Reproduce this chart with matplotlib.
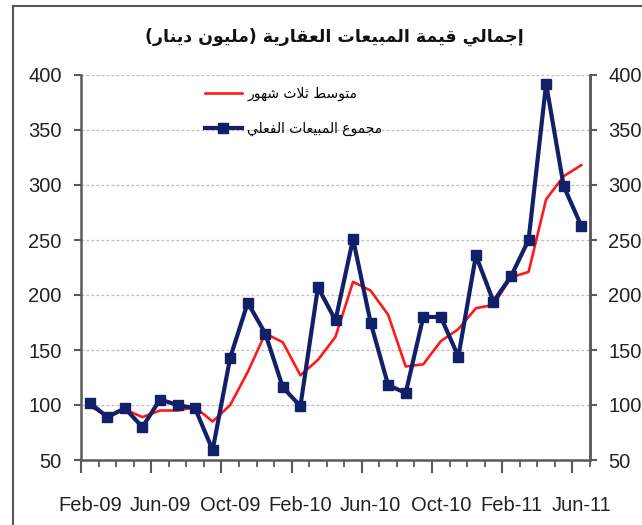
import matplotlib
matplotlib.use("Agg")
import matplotlib.pyplot as plt
from matplotlib.lines import Line2D
import numpy as np

# ---------------- data ----------------
months = ["Feb-09", "Mar-09", "Apr-09", "May-09", "Jun-09", "Jul-09", "Aug-09", "Sep-09",
          "Oct-09", "Nov-09", "Dec-09", "Jan-10", "Feb-10", "Mar-10", "Apr-10", "May-10",
          "Jun-10", "Jul-10", "Aug-10", "Sep-10", "Oct-10", "Nov-10", "Dec-10", "Jan-11",
          "Feb-11", "Mar-11", "Apr-11", "May-11", "Jun-11"]
actual_sales = [102, 89, 97, 80, 105, 100, 97, 59, 143, 193, 165, 116, 99, 207, 177, 251,
                175, 118, 111, 180, 180, 144, 236, 194, 217, 250, 392, 299, 263]
three_month_avg = [99, 90, 96, 89, 95, 95, 98, 85, 100, 130, 165, 157, 127, 141, 162, 212,
                   204, 182, 135, 137, 158, 169, 188, 191, 216, 221, 287, 308, 318]
label_every = 4
yticks = [50, 100, 150, 200, 250, 300, 350, 400]

title_text = "إجمالي قيمة المبيعات العقارية (مليون دينار)"
legend_avg = "متوسط ثلاث شهور"
legend_actual = "مجموع المبيعات الفعلي"

# ------------- minimal Arabic shaping (matplotlib has no complex text layout) -------------
FORMS = {  # iso, fin, ini, med
    'ا': ('\uFE8D', '\uFE8E', None, None),
    'إ': ('\uFE87', '\uFE88', None, None),
    'ب': ('\uFE8F', '\uFE90', '\uFE91', '\uFE92'),
    'ة': ('\uFE93', '\uFE94', None, None),
    'ت': ('\uFE95', '\uFE96', '\uFE97', '\uFE98'),
    'ث': ('\uFE99', '\uFE9A', '\uFE9B', '\uFE9C'),
    'ج': ('\uFE9D', '\uFE9E', '\uFE9F', '\uFEA0'),
    'د': ('\uFEA9', '\uFEAA', None, None),
    'ر': ('\uFEAD', '\uFEAE', None, None),
    'س': ('\uFEB1', '\uFEB2', '\uFEB3', '\uFEB4'),
    'ش': ('\uFEB5', '\uFEB6', '\uFEB7', '\uFEB8'),
    'ط': ('\uFEC1', '\uFEC2', '\uFEC3', '\uFEC4'),
    'ع': ('\uFEC9', '\uFECA', '\uFECB', '\uFECC'),
    'ف': ('\uFED1', '\uFED2', '\uFED3', '\uFED4'),
    'ق': ('\uFED5', '\uFED6', '\uFED7', '\uFED8'),
    'ل': ('\uFEDD', '\uFEDE', '\uFEDF', '\uFEE0'),
    'م': ('\uFEE1', '\uFEE2', '\uFEE3', '\uFEE4'),
    'ن': ('\uFEE5', '\uFEE6', '\uFEE7', '\uFEE8'),
    'ه': ('\uFEE9', '\uFEEA', '\uFEEB', '\uFEEC'),
    'و': ('\uFEED', '\uFEEE', None, None),
    'ي': ('\uFEF1', '\uFEF2', '\uFEF3', '\uFEF4'),
}


def _dual(c):
    return c in FORMS and FORMS[c][2] is not None


def shape_ar(s):
    out = []
    n = len(s)
    i = 0
    while i < n:
        c = s[i]
        if c not in FORMS:
            out.append(c)
            i += 1
            continue
        prev = s[i - 1] if i > 0 else None
        nxt = s[i + 1] if i + 1 < n else None
        jp = prev is not None and _dual(prev)
        if c == 'ل' and nxt in ('ا', 'إ'):
            out.append('\uFEFC' if jp else '\uFEFB')
            i += 2
            continue
        jn = _dual(c) and nxt is not None and nxt in FORMS
        iso, fin, ini, med = FORMS[c]
        if jp and jn:
            out.append(med)
        elif jp:
            out.append(fin)
        elif jn:
            out.append(ini)
        else:
            out.append(iso)
        i += 1
    vis = ''.join(reversed(out))
    return vis.translate(str.maketrans({'(': ')', ')': '('}))


# ---------------- figure ----------------
plt.rcParams['font.family'] = ['Liberation Sans', 'DejaVu Sans']
fig = plt.figure(figsize=(6.42, 5.25), dpi=100)
W, H = 642, 525
L, R, B, T = 81, 590, 460, 75
ax = fig.add_axes([L / W, 1 - B / H, (R - L) / W, (B - T) / H])

x = np.arange(len(months))
navy = '#12206a'
red = '#ff1a1a'
spine_c = '#5a5a5a'
text_c = '#222222'

ax.plot(x, three_month_avg, color=red, lw=1.9, label=shape_ar(legend_avg), zorder=3)
ax.plot(x, actual_sales, color=navy, lw=3.0, marker='s', markersize=6.5,
        markerfacecolor=navy, markeredgecolor=navy, label=shape_ar(legend_actual), zorder=4)

ax.set_xlim(-0.5, len(months) - 0.5)
ax.set_ylim(50, 400)
ax.set_yticks(yticks)
ax.yaxis.grid(True, color='#bdbdbd', linestyle=(0, (2.2, 1.8)), lw=0.9)
ax.set_axisbelow(True)

ax.spines['top'].set_visible(False)
for s in ['left', 'bottom', 'right']:
    ax.spines[s].set_color(spine_c)
    ax.spines[s].set_linewidth(1.8)

ax.tick_params(axis='y', direction='out', length=5, width=1.5, color=spine_c,
               labelsize=14.5, labelcolor=text_c, pad=9)

# bottom ticks at category boundaries: long every 4, short otherwise
bounds = np.arange(-0.5, len(months), 1.0)
ax.set_xticks(bounds[::label_every])
ax.set_xticks(bounds, minor=True)
ax.tick_params(axis='x', which='major', direction='out', length=9, width=1.5, color=spine_c,
               labelbottom=False)
ax.tick_params(axis='x', which='minor', direction='out', length=5, width=1.3, color=spine_c)

# labels centred on categories
sec = ax.secondary_xaxis('bottom')
sec.set_xticks(x[::label_every])
sec.set_xticklabels(months[::label_every])
sec.tick_params(length=0, pad=26, labelsize=14.5, labelcolor=text_c)
sec.spines['bottom'].set_visible(False)

# right-hand duplicate axis
ax2 = ax.twinx()
ax2.set_ylim(ax.get_ylim())
ax2.set_yticks(yticks)
ax2.tick_params(axis='y', direction='out', length=5, width=1.5, color=spine_c,
                labelsize=14.5, labelcolor=text_c, pad=8)
for s in ['top', 'left', 'bottom']:
    ax2.spines[s].set_visible(False)
ax2.spines['right'].set_color(spine_c)
ax2.spines['right'].set_linewidth(1.8)

leg = ax.legend(loc='upper left', bbox_to_anchor=((205 - L) / (R - L), 0.970),
                frameon=False, handlelength=2.65, handletextpad=0.38,
                labelspacing=1.5, borderaxespad=0, borderpad=0,
                prop={'family': 'DejaVu Sans', 'size': 10})

fig.text(334 / W, 1 - 37 / H, shape_ar(title_text), ha='center', va='center',
         fontsize=12.5, fontweight='bold', family='DejaVu Sans', color='#111111')

# outer frame (open at right and bottom like the crop)
fig.add_artist(Line2D([13 / W, 13 / W], [0, 1 - 6 / H], transform=fig.transFigure,
                      color='#555555', lw=1.5))
fig.add_artist(Line2D([13 / W, 1], [1 - 6 / H, 1 - 6 / H], transform=fig.transFigure,
                      color='#555555', lw=1.5))

fig.savefig('out.png', dpi=100)
